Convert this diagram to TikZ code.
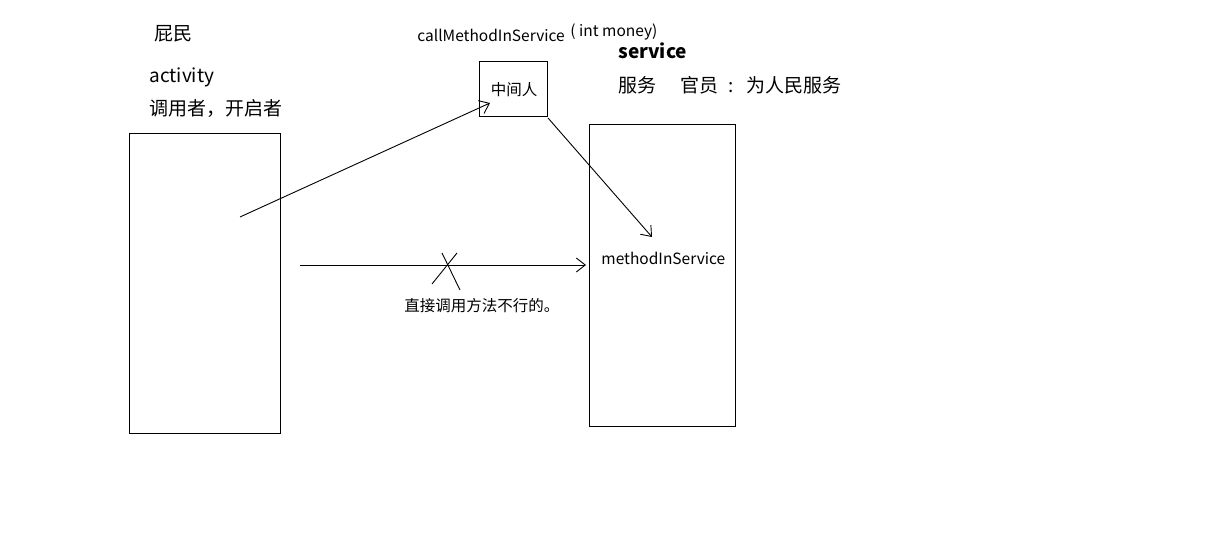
\documentclass[tikz,border=0pt]{standalone}
\usepackage{fontspec}
\setmainfont{Noto Sans CJK SC}
\usetikzlibrary{arrows.meta}

\begin{document}
\begin{tikzpicture} [x=1pt, y=-1pt, line width=.9pt]
\useasboundingbox (0,0) rectangle (1209,548);

\tikzset{bigtxt/.style={font=\fontsize{19}{22}\selectfont, inner sep=0pt},
 smalltxt/.style={font=\fontsize{15.5}{18}\selectfont, inner sep=0pt},
 barb/.style={-{Straight Barb[length=9pt,width=14pt]}}}

% boxes
\draw (129,133) rectangle (280,433);
\draw (589,124) rectangle (735,426);
\node[draw, minimum width=68pt, minimum height=55pt, inner sep=0pt] (mid) at (513,88.5) {};
\node[smalltxt] (midtxt) at (514,90) {中间人};

% labels
\node[bigtxt] (pimin) at (173,34) {屁民};
\node[bigtxt, anchor=west] (act) at (149,77) {activity};
\node[bigtxt, anchor=west] (caller) at (149,109) {调用者，开启者};
\node[smalltxt, anchor=west] (call) at (417,35) {callMethodInService};
\node[smalltxt, anchor=west] (money) at (570,32) {( int money)};
\node[bigtxt, anchor=west, font=\fontsize{19}{22}\selectfont\bfseries] (serv) at (618,51) {service};
\node[bigtxt, anchor=west] (fuwu) at (618,85) {服务\hspace{24pt}官员\hspace{10pt}:\hspace{13pt}为人民服务};
\node[smalltxt, anchor=west] (method) at (601,258) {methodInService};
\node[smalltxt, anchor=west] (direct) at (404,306) {直接调用方法不行的。};

% arrows
\coordinate (a1) at (240,217);
\coordinate (m1) at (490,103);
\coordinate (m2) at (548,118);
\coordinate (s1) at (652,237);
\coordinate (a2) at (300,265);
\coordinate (s2) at (586,265);
\draw[barb] (a1)--(m1);
\draw[barb] (m2)--(s1);
\draw[barb] (a2)--(s2);

% cross
\draw (442,253)--(460,290);
\draw (457,253)--(432,284);

\end{tikzpicture}
\end{document}
